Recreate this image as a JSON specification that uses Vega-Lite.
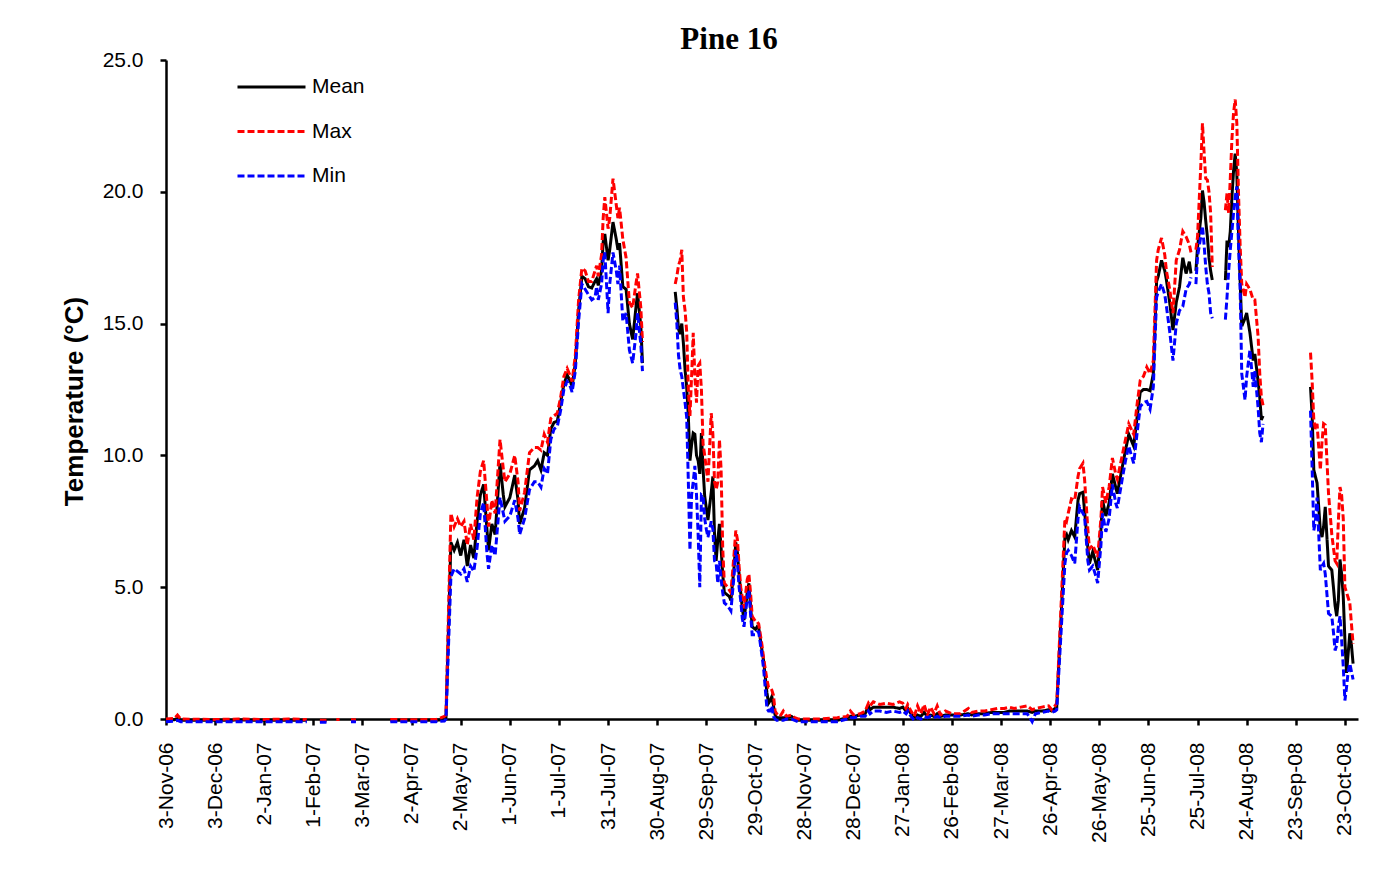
{
  "$schema": "https://vega.github.io/schema/vega-lite/v6.json",
  "autosize": "none",
  "width": 1192,
  "height": 659,
  "padding": {"left": 166, "top": 60, "right": 34, "bottom": 169},
  "background": "white",
  "title": {
    "text": "Pine 16",
    "font": "Liberation Serif",
    "fontSize": 31,
    "fontWeight": "bold",
    "color": "black",
    "anchor": "middle",
    "dx": -33,
    "dy": 15,
    "offset": 8
  },
  "data": {
    "values": [
      {"date": "2006-11-03", "Mean": -0.05, "Max": 0.0, "Min": -0.1},
      {"date": "2006-11-08", "Mean": -0.03, "Max": 0.02, "Min": -0.08},
      {"date": "2006-11-10", "Mean": 0.03, "Max": 0.15, "Min": -0.05},
      {"date": "2006-11-12", "Mean": -0.05, "Max": 0.0, "Min": -0.1},
      {"date": "2006-12-03", "Mean": -0.05, "Max": -0.02, "Min": -0.1},
      {"date": "2006-12-18", "Mean": -0.04, "Max": 0.0, "Min": -0.1},
      {"date": "2007-01-02", "Mean": -0.05, "Max": -0.02, "Min": -0.1},
      {"date": "2007-01-17", "Mean": -0.05, "Max": 0.0, "Min": -0.1},
      {"date": "2007-01-28", "Mean": -0.05, "Max": -0.02, "Min": -0.1},
      {"date": "2007-01-31", "Mean": null, "Max": null, "Min": null},
      {"date": "2007-02-05", "Mean": -0.08, "Max": -0.05, "Min": -0.12},
      {"date": "2007-02-09", "Mean": -0.08, "Max": -0.05, "Min": -0.12},
      {"date": "2007-02-12", "Mean": null, "Max": null, "Min": null},
      {"date": "2007-02-15", "Mean": null, "Max": -0.02, "Min": null},
      {"date": "2007-02-17", "Mean": null, "Max": -0.02, "Min": null},
      {"date": "2007-02-20", "Mean": null, "Max": null, "Min": null},
      {"date": "2007-02-24", "Mean": -0.06, "Max": -0.03, "Min": -0.1},
      {"date": "2007-02-27", "Mean": -0.06, "Max": -0.03, "Min": -0.1},
      {"date": "2007-03-03", "Mean": null, "Max": null, "Min": null},
      {"date": "2007-03-20", "Mean": -0.05, "Max": -0.02, "Min": -0.1},
      {"date": "2007-04-02", "Mean": -0.05, "Max": -0.03, "Min": -0.1},
      {"date": "2007-04-17", "Mean": -0.05, "Max": -0.02, "Min": -0.1},
      {"date": "2007-04-22", "Mean": -0.02, "Max": 0.1, "Min": -0.08},
      {"date": "2007-04-23", "Mean": 0.05, "Max": 0.15, "Min": 0.0},
      {"date": "2007-04-26", "Mean": 6.7, "Max": 7.8, "Min": 5.4},
      {"date": "2007-04-28", "Mean": 6.4, "Max": 7.3, "Min": 5.7},
      {"date": "2007-04-30", "Mean": 6.7, "Max": 7.6, "Min": 5.6},
      {"date": "2007-05-02", "Mean": 6.2, "Max": 7.3, "Min": 5.5},
      {"date": "2007-05-04", "Mean": 6.8, "Max": 7.5, "Min": 5.7},
      {"date": "2007-05-06", "Mean": 5.8, "Max": 6.6, "Min": 5.2},
      {"date": "2007-05-08", "Mean": 6.6, "Max": 7.4, "Min": 5.8},
      {"date": "2007-05-10", "Mean": 6.1, "Max": 6.8, "Min": 5.6},
      {"date": "2007-05-12", "Mean": 7.5, "Max": 8.4, "Min": 6.5},
      {"date": "2007-05-14", "Mean": 8.5, "Max": 9.4, "Min": 7.8},
      {"date": "2007-05-16", "Mean": 8.9, "Max": 9.8, "Min": 8.2},
      {"date": "2007-05-18", "Mean": 7.2, "Max": 8.2, "Min": 6.3},
      {"date": "2007-05-19", "Mean": 6.4, "Max": 7.3, "Min": 5.7},
      {"date": "2007-05-21", "Mean": 7.4, "Max": 8.3, "Min": 6.6},
      {"date": "2007-05-23", "Mean": 7.0, "Max": 7.8, "Min": 6.2},
      {"date": "2007-05-26", "Mean": 9.7, "Max": 10.6, "Min": 8.4},
      {"date": "2007-05-28", "Mean": 8.5, "Max": 9.5, "Min": 7.8},
      {"date": "2007-05-29", "Mean": 8.05, "Max": 9.0, "Min": 7.5},
      {"date": "2007-06-01", "Mean": 8.4, "Max": 9.3, "Min": 7.7},
      {"date": "2007-06-04", "Mean": 9.25, "Max": 10.0, "Min": 8.3},
      {"date": "2007-06-06", "Mean": 8.3, "Max": 9.0, "Min": 7.6},
      {"date": "2007-06-07", "Mean": 7.4, "Max": 7.9, "Min": 7.0},
      {"date": "2007-06-10", "Mean": 8.0, "Max": 8.6, "Min": 7.6},
      {"date": "2007-06-13", "Mean": 9.45, "Max": 10.1, "Min": 8.7},
      {"date": "2007-06-16", "Mean": 9.6, "Max": 10.3, "Min": 9.0},
      {"date": "2007-06-18", "Mean": 9.8, "Max": 10.3, "Min": 9.0},
      {"date": "2007-06-20", "Mean": 9.45, "Max": 10.2, "Min": 8.8},
      {"date": "2007-06-22", "Mean": 10.1, "Max": 10.8, "Min": 9.5},
      {"date": "2007-06-24", "Mean": 10.0, "Max": 10.5, "Min": 9.3},
      {"date": "2007-06-26", "Mean": 11.0, "Max": 11.4, "Min": 10.6},
      {"date": "2007-06-28", "Mean": 11.25, "Max": 11.5, "Min": 11.0},
      {"date": "2007-06-30", "Mean": 11.3, "Max": 11.6, "Min": 11.1},
      {"date": "2007-07-02", "Mean": 12.0, "Max": 12.2, "Min": 11.7},
      {"date": "2007-07-04", "Mean": 12.7, "Max": 13.0, "Min": 12.5},
      {"date": "2007-07-06", "Mean": 13.05, "Max": 13.3, "Min": 12.8},
      {"date": "2007-07-08", "Mean": 12.8, "Max": 13.0, "Min": 12.6},
      {"date": "2007-07-09", "Mean": 12.6, "Max": 12.8, "Min": 12.4},
      {"date": "2007-07-11", "Mean": 13.5, "Max": 13.8, "Min": 13.2},
      {"date": "2007-07-13", "Mean": 15.5, "Max": 15.9, "Min": 15.1},
      {"date": "2007-07-15", "Mean": 16.8, "Max": 17.1, "Min": 16.5},
      {"date": "2007-07-17", "Mean": 16.7, "Max": 17.0, "Min": 16.3},
      {"date": "2007-07-19", "Mean": 16.4, "Max": 16.6, "Min": 16.1},
      {"date": "2007-07-21", "Mean": 16.35, "Max": 16.6, "Min": 15.9},
      {"date": "2007-07-23", "Mean": 16.6, "Max": 17.0, "Min": 16.0},
      {"date": "2007-07-24", "Mean": 16.7, "Max": 17.2, "Min": 16.4},
      {"date": "2007-07-25", "Mean": 16.45, "Max": 16.8, "Min": 15.9},
      {"date": "2007-07-27", "Mean": 17.0, "Max": 17.6, "Min": 16.5},
      {"date": "2007-07-28", "Mean": 18.1, "Max": 19.0, "Min": 17.4},
      {"date": "2007-07-29", "Mean": 18.4, "Max": 19.8, "Min": 17.7},
      {"date": "2007-07-31", "Mean": 17.4, "Max": 18.6, "Min": 15.4},
      {"date": "2007-08-01", "Mean": 17.8, "Max": 19.0, "Min": 16.5},
      {"date": "2007-08-03", "Mean": 18.85, "Max": 20.5, "Min": 17.7},
      {"date": "2007-08-05", "Mean": 18.2, "Max": 19.5, "Min": 17.0},
      {"date": "2007-08-06", "Mean": 17.8, "Max": 19.0, "Min": 16.5},
      {"date": "2007-08-07", "Mean": 18.05, "Max": 19.4, "Min": 17.2},
      {"date": "2007-08-09", "Mean": 16.4, "Max": 18.2, "Min": 15.1},
      {"date": "2007-08-11", "Mean": 16.3, "Max": 17.5, "Min": 15.4},
      {"date": "2007-08-13", "Mean": 15.0, "Max": 15.8, "Min": 14.0},
      {"date": "2007-08-15", "Mean": 14.4, "Max": 15.6, "Min": 13.5},
      {"date": "2007-08-17", "Mean": 15.6, "Max": 16.5, "Min": 14.6},
      {"date": "2007-08-18", "Mean": 16.15, "Max": 16.9, "Min": 15.4},
      {"date": "2007-08-20", "Mean": 14.9, "Max": 15.6, "Min": 14.2},
      {"date": "2007-08-21", "Mean": 13.5, "Max": 14.3, "Min": 13.2},
      {"date": "2007-08-30", "Mean": null, "Max": null, "Min": null},
      {"date": "2007-09-10", "Mean": 16.2, "Max": 16.5, "Min": 15.8},
      {"date": "2007-09-11", "Mean": 15.6, "Max": 16.8, "Min": 15.0},
      {"date": "2007-09-12", "Mean": 14.8, "Max": 17.2, "Min": 13.8},
      {"date": "2007-09-13", "Mean": 14.6, "Max": 17.4, "Min": 13.25},
      {"date": "2007-09-14", "Mean": 15.0, "Max": 17.8, "Min": 13.0},
      {"date": "2007-09-15", "Mean": 14.25, "Max": 16.0, "Min": 12.5},
      {"date": "2007-09-16", "Mean": 13.25, "Max": 15.5, "Min": 12.0},
      {"date": "2007-09-17", "Mean": 12.6, "Max": 14.7, "Min": 11.45},
      {"date": "2007-09-18", "Mean": 11.5, "Max": 12.5, "Min": 9.05},
      {"date": "2007-09-19", "Mean": 9.8, "Max": 11.5, "Min": 6.4},
      {"date": "2007-09-20", "Mean": 10.4, "Max": 13.0, "Min": 8.5},
      {"date": "2007-09-21", "Mean": 10.85, "Max": 14.65, "Min": 9.0},
      {"date": "2007-09-22", "Mean": 10.8, "Max": 13.0, "Min": 9.6},
      {"date": "2007-09-23", "Mean": 10.0, "Max": 12.0, "Min": 8.5},
      {"date": "2007-09-24", "Mean": 9.8, "Max": 13.4, "Min": 7.0},
      {"date": "2007-09-25", "Mean": 9.3, "Max": 13.5, "Min": 5.0},
      {"date": "2007-09-26", "Mean": 10.85, "Max": 12.5, "Min": 8.5},
      {"date": "2007-09-27", "Mean": 9.5, "Max": 10.45, "Min": 8.45},
      {"date": "2007-09-28", "Mean": 8.45, "Max": 10.0, "Min": 7.6},
      {"date": "2007-09-29", "Mean": 8.0, "Max": 9.5, "Min": 7.2},
      {"date": "2007-09-30", "Mean": 7.55, "Max": 9.0, "Min": 6.9},
      {"date": "2007-10-02", "Mean": 8.6, "Max": 11.6, "Min": 7.5},
      {"date": "2007-10-03", "Mean": 9.2, "Max": 10.8, "Min": 7.2},
      {"date": "2007-10-04", "Mean": 7.0, "Max": 9.0, "Min": 6.0},
      {"date": "2007-10-05", "Mean": 6.0, "Max": 8.7, "Min": 5.9},
      {"date": "2007-10-06", "Mean": 6.8, "Max": 9.0, "Min": 5.15},
      {"date": "2007-10-07", "Mean": 7.4, "Max": 10.6, "Min": 6.0},
      {"date": "2007-10-08", "Mean": 6.5, "Max": 9.5, "Min": 5.3},
      {"date": "2007-10-09", "Mean": 5.5, "Max": 6.5, "Min": 4.8},
      {"date": "2007-10-10", "Mean": 4.8, "Max": 5.15, "Min": 4.4},
      {"date": "2007-10-12", "Mean": 4.7, "Max": 5.0, "Min": 4.3},
      {"date": "2007-10-13", "Mean": 4.65, "Max": 4.9, "Min": 4.2},
      {"date": "2007-10-14", "Mean": 4.5, "Max": 4.8, "Min": 4.1},
      {"date": "2007-10-16", "Mean": 5.8, "Max": 6.3, "Min": 5.5},
      {"date": "2007-10-17", "Mean": 6.7, "Max": 7.15, "Min": 6.4},
      {"date": "2007-10-18", "Mean": 6.3, "Max": 6.8, "Min": 5.9},
      {"date": "2007-10-19", "Mean": 5.5, "Max": 5.8, "Min": 5.0},
      {"date": "2007-10-20", "Mean": 4.8, "Max": 5.0, "Min": 4.5},
      {"date": "2007-10-21", "Mean": 4.2, "Max": 4.6, "Min": 3.8},
      {"date": "2007-10-22", "Mean": 3.75, "Max": 4.2, "Min": 3.5},
      {"date": "2007-10-24", "Mean": 4.8, "Max": 5.3, "Min": 4.6},
      {"date": "2007-10-25", "Mean": 5.15, "Max": 5.5, "Min": 4.9},
      {"date": "2007-10-26", "Mean": 4.3, "Max": 4.8, "Min": 4.0},
      {"date": "2007-10-27", "Mean": 3.5, "Max": 3.9, "Min": 3.2},
      {"date": "2007-10-29", "Mean": 3.4, "Max": 3.7, "Min": 3.2},
      {"date": "2007-10-30", "Mean": 3.5, "Max": 3.7, "Min": 3.3},
      {"date": "2007-10-31", "Mean": 3.45, "Max": 3.6, "Min": 3.3},
      {"date": "2007-11-02", "Mean": 2.6, "Max": 2.8, "Min": 2.4},
      {"date": "2007-11-03", "Mean": 2.2, "Max": 2.3, "Min": 1.9},
      {"date": "2007-11-05", "Mean": 1.0, "Max": 1.5, "Min": 0.4},
      {"date": "2007-11-06", "Mean": 0.6, "Max": 1.2, "Min": 0.3},
      {"date": "2007-11-07", "Mean": 0.7, "Max": 1.2, "Min": 0.3},
      {"date": "2007-11-08", "Mean": 0.85, "Max": 1.1, "Min": 0.5},
      {"date": "2007-11-09", "Mean": 0.5, "Max": 0.9, "Min": 0.1},
      {"date": "2007-11-10", "Mean": 0.15, "Max": 0.3, "Min": 0.0},
      {"date": "2007-11-11", "Mean": 0.05, "Max": 0.2, "Min": -0.05},
      {"date": "2007-11-13", "Mean": 0.05, "Max": 0.1, "Min": -0.05},
      {"date": "2007-11-15", "Mean": 0.05, "Max": 0.3, "Min": -0.05},
      {"date": "2007-11-17", "Mean": 0.05, "Max": 0.1, "Min": 0.0},
      {"date": "2007-11-20", "Mean": 0.1, "Max": 0.15, "Min": 0.0},
      {"date": "2007-11-22", "Mean": 0.0, "Max": 0.05, "Min": -0.05},
      {"date": "2007-11-24", "Mean": -0.05, "Max": 0.0, "Min": -0.1},
      {"date": "2007-12-08", "Mean": -0.05, "Max": 0.0, "Min": -0.1},
      {"date": "2007-12-18", "Mean": -0.05, "Max": 0.05, "Min": -0.1},
      {"date": "2007-12-24", "Mean": 0.05, "Max": 0.1, "Min": 0.0},
      {"date": "2007-12-26", "Mean": 0.1, "Max": 0.3, "Min": 0.05},
      {"date": "2007-12-28", "Mean": 0.1, "Max": 0.15, "Min": 0.05},
      {"date": "2008-01-01", "Mean": 0.15, "Max": 0.2, "Min": 0.1},
      {"date": "2008-01-04", "Mean": 0.2, "Max": 0.3, "Min": 0.1},
      {"date": "2008-01-06", "Mean": 0.5, "Max": 0.6, "Min": 0.3},
      {"date": "2008-01-07", "Mean": 0.35, "Max": 0.5, "Min": 0.2},
      {"date": "2008-01-09", "Mean": 0.45, "Max": 0.65, "Min": 0.3},
      {"date": "2008-01-13", "Mean": 0.45, "Max": 0.55, "Min": 0.3},
      {"date": "2008-01-17", "Mean": 0.45, "Max": 0.6, "Min": 0.25},
      {"date": "2008-01-21", "Mean": 0.45, "Max": 0.55, "Min": 0.3},
      {"date": "2008-01-25", "Mean": 0.4, "Max": 0.65, "Min": 0.25},
      {"date": "2008-01-27", "Mean": 0.45, "Max": 0.6, "Min": 0.3},
      {"date": "2008-01-29", "Mean": 0.3, "Max": 0.4, "Min": 0.2},
      {"date": "2008-01-30", "Mean": 0.4, "Max": 0.55, "Min": 0.3},
      {"date": "2008-02-01", "Mean": 0.2, "Max": 0.3, "Min": 0.1},
      {"date": "2008-02-03", "Mean": 0.05, "Max": 0.1, "Min": -0.05},
      {"date": "2008-02-05", "Mean": 0.15, "Max": 0.5, "Min": 0.05},
      {"date": "2008-02-07", "Mean": 0.1, "Max": 0.2, "Min": 0.0},
      {"date": "2008-02-09", "Mean": 0.25, "Max": 0.55, "Min": 0.1},
      {"date": "2008-02-11", "Mean": 0.1, "Max": 0.15, "Min": 0.05},
      {"date": "2008-02-13", "Mean": 0.15, "Max": 0.45, "Min": 0.1},
      {"date": "2008-02-15", "Mean": 0.1, "Max": 0.2, "Min": 0.05},
      {"date": "2008-02-17", "Mean": 0.2, "Max": 0.5, "Min": 0.1},
      {"date": "2008-02-19", "Mean": 0.1, "Max": 0.15, "Min": 0.05},
      {"date": "2008-02-22", "Mean": 0.15, "Max": 0.3, "Min": 0.1},
      {"date": "2008-02-26", "Mean": 0.15, "Max": 0.2, "Min": 0.1},
      {"date": "2008-03-02", "Mean": 0.15, "Max": 0.2, "Min": 0.1},
      {"date": "2008-03-07", "Mean": 0.2, "Max": 0.4, "Min": 0.15},
      {"date": "2008-03-09", "Mean": 0.15, "Max": 0.25, "Min": 0.1},
      {"date": "2008-03-13", "Mean": 0.2, "Max": 0.3, "Min": 0.15},
      {"date": "2008-03-17", "Mean": 0.2, "Max": 0.3, "Min": 0.15},
      {"date": "2008-03-21", "Mean": 0.25, "Max": 0.35, "Min": 0.2},
      {"date": "2008-03-25", "Mean": 0.25, "Max": 0.4, "Min": 0.2},
      {"date": "2008-03-29", "Mean": 0.25, "Max": 0.4, "Min": 0.2},
      {"date": "2008-04-01", "Mean": 0.3, "Max": 0.45, "Min": 0.2},
      {"date": "2008-04-04", "Mean": 0.3, "Max": 0.4, "Min": 0.2},
      {"date": "2008-04-08", "Mean": 0.3, "Max": 0.45, "Min": 0.2},
      {"date": "2008-04-12", "Mean": 0.3, "Max": 0.5, "Min": 0.2},
      {"date": "2008-04-15", "Mean": 0.25, "Max": 0.35, "Min": -0.1},
      {"date": "2008-04-17", "Mean": 0.3, "Max": 0.4, "Min": 0.2},
      {"date": "2008-04-21", "Mean": 0.3, "Max": 0.45, "Min": 0.25},
      {"date": "2008-04-25", "Mean": 0.35, "Max": 0.5, "Min": 0.3},
      {"date": "2008-04-27", "Mean": 0.3, "Max": 0.35, "Min": 0.25},
      {"date": "2008-04-29", "Mean": 0.4, "Max": 0.5, "Min": 0.3},
      {"date": "2008-04-30", "Mean": 0.45, "Max": 0.6, "Min": 0.35},
      {"date": "2008-05-05", "Mean": 6.9, "Max": 7.6, "Min": 5.9},
      {"date": "2008-05-06", "Mean": 7.0, "Max": 7.5, "Min": 6.3},
      {"date": "2008-05-07", "Mean": 6.8, "Max": 7.8, "Min": 6.4},
      {"date": "2008-05-09", "Mean": 7.15, "Max": 8.35, "Min": 6.2},
      {"date": "2008-05-11", "Mean": 6.9, "Max": 8.3, "Min": 5.9},
      {"date": "2008-05-13", "Mean": 8.3, "Max": 9.2, "Min": 7.6},
      {"date": "2008-05-14", "Mean": 8.55, "Max": 9.5, "Min": 8.05},
      {"date": "2008-05-16", "Mean": 8.6, "Max": 9.7, "Min": 7.8},
      {"date": "2008-05-17", "Mean": 7.9, "Max": 9.1, "Min": 7.7},
      {"date": "2008-05-19", "Mean": 6.5, "Max": 7.2, "Min": 6.0},
      {"date": "2008-05-20", "Mean": 5.9, "Max": 6.45, "Min": 5.65},
      {"date": "2008-05-22", "Mean": 6.35, "Max": 6.6, "Min": 5.8},
      {"date": "2008-05-24", "Mean": 5.9, "Max": 6.3, "Min": 5.4},
      {"date": "2008-05-25", "Mean": 5.65, "Max": 6.15, "Min": 5.15},
      {"date": "2008-05-27", "Mean": 7.2, "Max": 7.6, "Min": 6.6},
      {"date": "2008-05-28", "Mean": 8.3, "Max": 8.8, "Min": 7.8},
      {"date": "2008-05-30", "Mean": 7.7, "Max": 8.2, "Min": 7.1},
      {"date": "2008-06-01", "Mean": 8.2, "Max": 8.8, "Min": 7.6},
      {"date": "2008-06-03", "Mean": 9.3, "Max": 9.9, "Min": 8.9},
      {"date": "2008-06-05", "Mean": 8.8, "Max": 9.3, "Min": 8.2},
      {"date": "2008-06-06", "Mean": 8.55, "Max": 9.1, "Min": 8.0},
      {"date": "2008-06-09", "Mean": 9.55, "Max": 10.0, "Min": 9.1},
      {"date": "2008-06-11", "Mean": 10.2, "Max": 10.6, "Min": 9.8},
      {"date": "2008-06-13", "Mean": 10.8, "Max": 11.2, "Min": 10.35},
      {"date": "2008-06-16", "Mean": 10.35, "Max": 10.8, "Min": 9.7},
      {"date": "2008-06-18", "Mean": 11.4, "Max": 11.9, "Min": 10.8},
      {"date": "2008-06-20", "Mean": 12.4, "Max": 12.85, "Min": 11.85},
      {"date": "2008-06-22", "Mean": 12.5, "Max": 13.0, "Min": 12.0},
      {"date": "2008-06-24", "Mean": 12.5, "Max": 13.35, "Min": 12.05},
      {"date": "2008-06-26", "Mean": 12.45, "Max": 13.1, "Min": 11.75},
      {"date": "2008-06-28", "Mean": 13.1, "Max": 13.6, "Min": 12.6},
      {"date": "2008-06-30", "Mean": 16.6, "Max": 17.4, "Min": 16.0},
      {"date": "2008-07-01", "Mean": 16.8, "Max": 17.8, "Min": 16.2},
      {"date": "2008-07-03", "Mean": 17.4, "Max": 18.25, "Min": 16.5},
      {"date": "2008-07-05", "Mean": 17.0, "Max": 17.6, "Min": 16.1},
      {"date": "2008-07-06", "Mean": 16.65, "Max": 17.0, "Min": 15.65},
      {"date": "2008-07-08", "Mean": 15.8, "Max": 16.3, "Min": 14.7},
      {"date": "2008-07-10", "Mean": 14.75, "Max": 15.4, "Min": 13.6},
      {"date": "2008-07-12", "Mean": 15.8, "Max": 17.4, "Min": 15.0},
      {"date": "2008-07-14", "Mean": 16.4, "Max": 17.8, "Min": 15.5},
      {"date": "2008-07-16", "Mean": 17.5, "Max": 18.5, "Min": 15.65},
      {"date": "2008-07-18", "Mean": 16.9, "Max": 18.3, "Min": 16.3},
      {"date": "2008-07-20", "Mean": 17.35, "Max": 18.0, "Min": 16.5},
      {"date": "2008-07-21", "Mean": 16.9, "Max": 17.7, "Min": 16.75},
      {"date": "2008-07-23", "Mean": null, "Max": null, "Min": null},
      {"date": "2008-07-24", "Mean": 17.0, "Max": 17.8, "Min": 16.5},
      {"date": "2008-07-25", "Mean": 17.9, "Max": 18.3, "Min": 17.55},
      {"date": "2008-07-27", "Mean": 19.0, "Max": 21.0, "Min": 18.3},
      {"date": "2008-07-28", "Mean": 20.05, "Max": 22.6, "Min": 18.7},
      {"date": "2008-07-29", "Mean": 19.6, "Max": 21.5, "Min": 18.0},
      {"date": "2008-07-30", "Mean": 18.9, "Max": 20.5, "Min": 17.15},
      {"date": "2008-07-31", "Mean": 18.3, "Max": 20.45, "Min": 16.5},
      {"date": "2008-08-01", "Mean": 17.5, "Max": 20.0, "Min": 16.15},
      {"date": "2008-08-02", "Mean": 17.0, "Max": 19.2, "Min": 15.4},
      {"date": "2008-08-03", "Mean": 16.65, "Max": 17.15, "Min": 15.2},
      {"date": "2008-08-07", "Mean": null, "Max": null, "Min": null},
      {"date": "2008-08-11", "Mean": 16.65, "Max": 19.3, "Min": 15.15},
      {"date": "2008-08-12", "Mean": 18.15, "Max": 19.95, "Min": 16.0},
      {"date": "2008-08-13", "Mean": 17.9, "Max": 19.2, "Min": 17.0},
      {"date": "2008-08-14", "Mean": 18.5, "Max": 20.5, "Min": 17.8},
      {"date": "2008-08-15", "Mean": 19.8, "Max": 22.0, "Min": 18.5},
      {"date": "2008-08-16", "Mean": 20.8, "Max": 23.0, "Min": 19.2},
      {"date": "2008-08-17", "Mean": 21.45, "Max": 23.5, "Min": 19.8},
      {"date": "2008-08-18", "Mean": 20.7, "Max": 22.6, "Min": 20.2},
      {"date": "2008-08-19", "Mean": 18.5, "Max": 20.0, "Min": 18.0},
      {"date": "2008-08-20", "Mean": 16.65, "Max": 18.0, "Min": 16.4},
      {"date": "2008-08-21", "Mean": 14.9, "Max": 16.5, "Min": 13.1},
      {"date": "2008-08-23", "Mean": 15.2, "Max": 16.0, "Min": 12.1},
      {"date": "2008-08-24", "Mean": 15.4, "Max": 16.5, "Min": 13.0},
      {"date": "2008-08-26", "Mean": 14.65, "Max": 16.3, "Min": 14.0},
      {"date": "2008-08-28", "Mean": 13.6, "Max": 15.9, "Min": 12.6},
      {"date": "2008-08-29", "Mean": 13.85, "Max": 15.9, "Min": 13.2},
      {"date": "2008-08-31", "Mean": 12.8, "Max": 14.5, "Min": 11.8},
      {"date": "2008-09-01", "Mean": 12.2, "Max": 13.1, "Min": 10.85},
      {"date": "2008-09-02", "Mean": 11.35, "Max": 12.2, "Min": 10.5},
      {"date": "2008-09-03", "Mean": 11.5, "Max": 11.9, "Min": 11.2},
      {"date": "2008-09-18", "Mean": null, "Max": null, "Min": null},
      {"date": "2008-10-02", "Mean": 12.6, "Max": 13.9, "Min": 11.7},
      {"date": "2008-10-03", "Mean": 11.5, "Max": 12.8, "Min": 9.5},
      {"date": "2008-10-04", "Mean": 9.45, "Max": 11.35, "Min": 7.15},
      {"date": "2008-10-05", "Mean": 9.2, "Max": 11.0, "Min": 7.5},
      {"date": "2008-10-06", "Mean": 8.95, "Max": 11.2, "Min": 8.4},
      {"date": "2008-10-08", "Mean": 7.15, "Max": 9.45, "Min": 5.65},
      {"date": "2008-10-09", "Mean": 6.9, "Max": 10.5, "Min": 5.8},
      {"date": "2008-10-10", "Mean": 7.3, "Max": 11.2, "Min": 5.9},
      {"date": "2008-10-11", "Mean": 8.05, "Max": 11.15, "Min": 5.5},
      {"date": "2008-10-13", "Mean": 5.8, "Max": 8.55, "Min": 4.0},
      {"date": "2008-10-15", "Mean": 5.65, "Max": 7.0, "Min": 3.9},
      {"date": "2008-10-16", "Mean": 5.0, "Max": 6.5, "Min": 3.3},
      {"date": "2008-10-17", "Mean": 4.3, "Max": 6.0, "Min": 2.6},
      {"date": "2008-10-18", "Mean": 3.9, "Max": 5.9, "Min": 2.8},
      {"date": "2008-10-19", "Mean": 4.5, "Max": 7.5, "Min": 3.5},
      {"date": "2008-10-20", "Mean": 6.05, "Max": 8.8, "Min": 3.9},
      {"date": "2008-10-21", "Mean": 5.5, "Max": 8.5, "Min": 3.0},
      {"date": "2008-10-22", "Mean": 4.65, "Max": 7.6, "Min": 2.0},
      {"date": "2008-10-23", "Mean": 3.0, "Max": 5.0, "Min": 0.7},
      {"date": "2008-10-24", "Mean": 1.75, "Max": 4.8, "Min": 1.2},
      {"date": "2008-10-25", "Mean": 2.5, "Max": 4.6, "Min": 1.8},
      {"date": "2008-10-26", "Mean": 3.25, "Max": 4.4, "Min": 2.1},
      {"date": "2008-10-27", "Mean": 2.8, "Max": 3.6, "Min": 1.8},
      {"date": "2008-10-28", "Mean": 2.1, "Max": 2.85, "Min": 1.5}
    ]
  },
  "transform": [
    {"fold": ["Mean", "Max", "Min"], "as": ["series", "temp"]}
  ],
  "mark": {"type": "line", "strokeWidth": 3, "clip": false, "strokeCap": "butt"},
  "encoding": {
    "x": {
      "field": "date",
      "type": "temporal",
      "scale": {
        "type": "utc",
        "domain": [
          {"year": 2006, "month": 11, "date": 3, "utc": true},
          {"year": 2008, "month": 10, "date": 31, "utc": true}
        ]
      },
      "axis": {
        "title": null,
        "values": [
          {"year": 2006, "month": 11, "date": 3, "utc": true},
          {"year": 2006, "month": 12, "date": 3, "utc": true},
          {"year": 2007, "month": 1, "date": 2, "utc": true},
          {"year": 2007, "month": 2, "date": 1, "utc": true},
          {"year": 2007, "month": 3, "date": 3, "utc": true},
          {"year": 2007, "month": 4, "date": 2, "utc": true},
          {"year": 2007, "month": 5, "date": 2, "utc": true},
          {"year": 2007, "month": 6, "date": 1, "utc": true},
          {"year": 2007, "month": 7, "date": 1, "utc": true},
          {"year": 2007, "month": 7, "date": 31, "utc": true},
          {"year": 2007, "month": 8, "date": 30, "utc": true},
          {"year": 2007, "month": 9, "date": 29, "utc": true},
          {"year": 2007, "month": 10, "date": 29, "utc": true},
          {"year": 2007, "month": 11, "date": 28, "utc": true},
          {"year": 2007, "month": 12, "date": 28, "utc": true},
          {"year": 2008, "month": 1, "date": 27, "utc": true},
          {"year": 2008, "month": 2, "date": 26, "utc": true},
          {"year": 2008, "month": 3, "date": 27, "utc": true},
          {"year": 2008, "month": 4, "date": 26, "utc": true},
          {"year": 2008, "month": 5, "date": 26, "utc": true},
          {"year": 2008, "month": 6, "date": 25, "utc": true},
          {"year": 2008, "month": 7, "date": 25, "utc": true},
          {"year": 2008, "month": 8, "date": 24, "utc": true},
          {"year": 2008, "month": 9, "date": 23, "utc": true},
          {"year": 2008, "month": 10, "date": 23, "utc": true}
        ],
        "format": "%-d-%b-%y",
        "labelAngle": 270,
        "labelFont": "Liberation Sans",
        "labelFontSize": 21,
        "labelColor": "black",
        "labelPadding": 17,
        "labelOverlap": false,
        "labelFlush": false,
        "grid": false,
        "domainColor": "black",
        "domainWidth": 2.5,
        "tickColor": "black",
        "tickWidth": 2.5,
        "tickSize": 6
      }
    },
    "y": {
      "field": "temp",
      "type": "quantitative",
      "scale": {"domain": [0, 25], "nice": false, "zero": false},
      "axis": {
        "title": "Temperature (°C)",
        "values": [0, 5, 10, 15, 20, 25],
        "format": ".1f",
        "labelFont": "Liberation Sans",
        "labelFontSize": 21,
        "labelColor": "black",
        "labelPadding": 17,
        "grid": false,
        "domainColor": "black",
        "domainWidth": 2.5,
        "tickColor": "black",
        "tickWidth": 2.5,
        "tickSize": 6,
        "titleFont": "Liberation Sans",
        "titleFontSize": 26,
        "titleFontWeight": "bold",
        "titleColor": "black",
        "titlePadding": 15,
        "titleY": 341
      }
    },
    "color": {
      "field": "series",
      "type": "nominal",
      "scale": {"domain": ["Mean", "Max", "Min"], "range": ["#000000", "#ff0000", "#0000ff"]},
      "legend": {"title": null}
    },
    "strokeDash": {
      "field": "series",
      "type": "nominal",
      "scale": {"domain": ["Mean", "Max", "Min"], "range": [[1, 0], [7, 3], [7, 3]]},
      "legend": {"title": null}
    }
  },
  "config": {
    "view": {"stroke": null},
    "font": "Liberation Sans",
    "legend": {
      "orient": "none",
      "legendX": 70,
      "legendY": 15,
      "symbolType": "stroke",
      "symbolSize": 4624,
      "symbolStrokeWidth": 3,
      "labelFont": "Liberation Sans",
      "labelFontSize": 21,
      "labelColor": "black",
      "labelOffset": 5,
      "clipHeight": 24,
      "rowPadding": 20.5,
      "padding": 0
    }
  }
}
